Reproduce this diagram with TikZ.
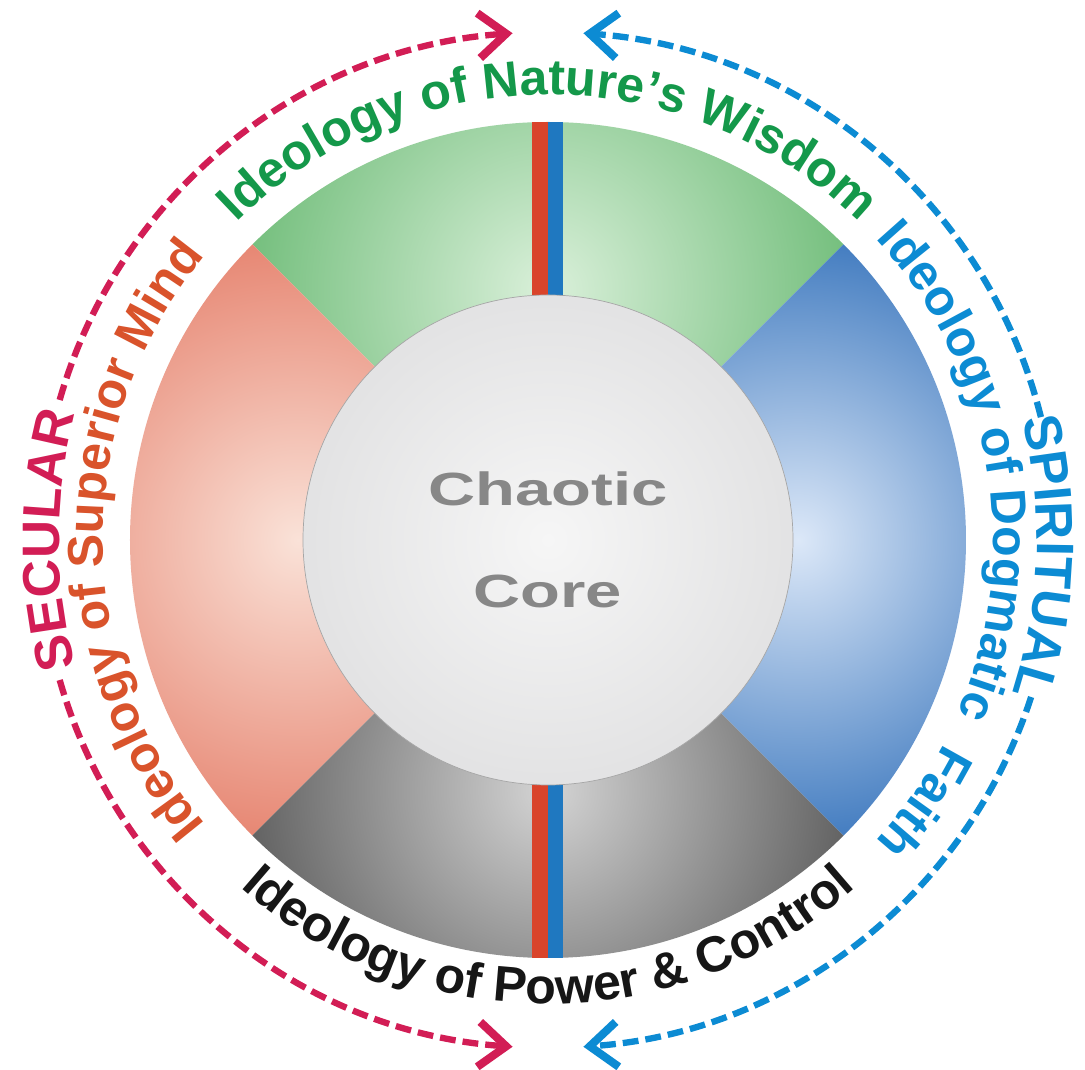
\documentclass[tikz,border=0pt]{standalone}
\usepackage{fontspec}
\setmainfont{Liberation Sans}
\newfontfamily\corefont[FakeStretch=1.4]{Liberation Sans}
\usetikzlibrary{arrows.meta,decorations.text}
\definecolor{idlgreen}{HTML}{14984A}
\definecolor{idlorange}{HTML}{D9532B}
\definecolor{idlcrimson}{HTML}{D21D55}
\definecolor{idlblue}{HTML}{0C8BD3}
\definecolor{idlink}{HTML}{161616}
\definecolor{idlgrey}{HTML}{878787}
\definecolor{grnlite}{HTML}{DAF0DA}
\definecolor{grndark}{HTML}{5CB367}
\definecolor{redlite}{HTML}{FAE2D8}
\definecolor{reddark}{HTML}{E2705A}
\definecolor{blulite}{HTML}{DCE8F8}
\definecolor{bludark}{HTML}{3774BC}
\definecolor{blklite}{HTML}{D4D4D4}
\definecolor{blkdark}{HTML}{2A2A2A}
\definecolor{corelite}{HTML}{F6F6F6}
\definecolor{coredark}{HTML}{CFCFD1}
\definecolor{stripered}{HTML}{D9442B}
\definecolor{stripeblue}{HTML}{1F78C0}
\tikzset{
  ringtxt/.style 2 args={decorate, decoration={text along path, text align=center, text color=#1,
    text={|\fontsize{28.5}{30}\selectfont\bfseries|#2}}},
  sidetxt/.style 2 args={decorate, decoration={text along path, text align=center, text color=#1,
    text={|\fontsize{30}{32}\selectfont\bfseries|#2}}},
  dsh/.style={dash pattern=on 9pt off 4pt, line width=3.6pt, -{Straight Barb[length=5.5mm, width=9mm, line width=4.6pt]}},
  core/.style={circle, draw=gray!70, line width=0.4pt, minimum size=9.8cm, inner sep=0pt, align=center,
    text=idlgrey, font=\corefont\bfseries\fontsize{26.5}{58}\selectfont},
}
\begin{document}
\begin{tikzpicture}
  \useasboundingbox[fill=white] (-10.96,-10.6) rectangle (10.74,10.8);
  \foreach \ang/\col/\rad in {90/grn/7.5, 180/red/7.5, 270/blk/9, 0/blu/6.5}
  {
    \begin{scope}
      \clip (0,0) -- (\ang-45:8.36) arc[start angle=\ang-45, end angle=\ang+45, radius=8.36] -- cycle;
      \shade[inner color=\col lite, outer color=\col dark] (\ang:5.0) circle[radius=\rad];
    \end{scope}
  }
  \foreach \s in {1,-1}
  {
    \fill[stripered] (-0.31,4.5*\s) rectangle (0,8.36*\s);
    \fill[stripeblue] (0,4.5*\s) rectangle (0.31,8.36*\s);
  }
  \begin{scope}
    \clip (0,0) circle[radius=4.9];
    \shade[inner color=corelite, outer color=coredark] (0,0) circle[radius=9.8];
  \end{scope}
  \node[core] (core) at (0,0) {Chaotic\\Core};
  \path[ringtxt={idlgreen}{Ideology of Nature’s Wisdom}] (150:8.9) arc[start angle=150, end angle=30, radius=8.9];
  \path[ringtxt={idlorange}{Ideology of Superior Mind}] (240:8.9) arc[start angle=240, end angle=120, radius=8.9];
  \path[ringtxt={idlblue}{Ideology of Dogmatic{\hspace{0.65em}}Faith}] (60:8.9) arc[start angle=60, end angle=-60, radius=8.9];
  \path[ringtxt={idlink}{Ideology of Power {\&} Control}] (210:9.28) arc[start angle=210, end angle=330, radius=9.28];
  \path[sidetxt={idlcrimson}{SECULAR}] (220:9.78) arc[start angle=220, end angle=140, radius=9.78];
  \path[sidetxt={idlblue}{SPIRITUAL}] (38:9.78) arc[start angle=38, end angle=-42, radius=9.78];
  \draw[dsh, idlcrimson] (164:10.16) arc[start angle=164, end angle=94, radius=10.16];
  \draw[dsh, idlcrimson] (196:10.16) arc[start angle=196, end angle=266, radius=10.16];
  \draw[dsh, idlblue] (14:10.16) arc[start angle=14, end angle=86, radius=10.16];
  \draw[dsh, idlblue] (-18:10.16) arc[start angle=-18, end angle=-86, radius=10.16];
\end{tikzpicture}
\end{document}
